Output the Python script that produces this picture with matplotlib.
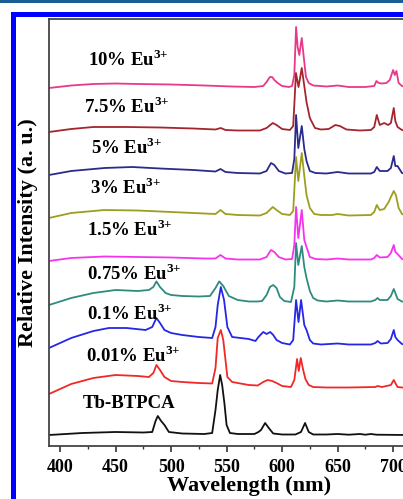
import numpy as np
import matplotlib
matplotlib.use("Agg")
import matplotlib.pyplot as plt
from matplotlib.patches import Rectangle

plt.rcParams["font.family"] = ["Liberation Serif", "DejaVu Serif"]
plt.rcParams["font.weight"] = "bold"
plt.rcParams["mathtext.fontset"] = "custom"
plt.rcParams["mathtext.rm"] = "Liberation Serif"
plt.rcParams["mathtext.bf"] = "Liberation Serif:bold"

########################################
# DATA
########################################
labels = ["10% Eu", "7.5% Eu", "5% Eu", "3% Eu", "1.5% Eu",
          "0.75% Eu", "0.1% Eu", "0.01% Eu", "Tb-BTPCA"]
colors = ["#E8388A", "#A3262E", "#2B2B8C", "#9E9E1E", "#F533EE",
          "#2E8B7F", "#2626E6", "#F02828", "#111111"]
offsets = [359, 315, 272, 230, 186, 144, 101, 58, 11]

wl_10 = [390, 410, 430, 450, 470, 500, 530, 555, 575, 583, 586, 589, 591, 593, 596, 600, 606, 609, 611,
         612.6, 614, 615.5, 617.7, 619.5, 621.5, 624, 628, 640, 650, 660, 675, 683, 685, 687, 690, 694,
         697, 700, 701.5, 703, 705, 708, 712]
int_10 = [-1, 1.5, 3, 3.5, 3, 2.5, 1.5, 0.5, 0, 1, 5, 10, 10, 7, 4, 1, 0, 1, 12,
          60, 40, 32, 49, 30, 10, 4, 1.5, 0.5, 1.5, 0, 0, 1, 6, 4, 3.5, 4,
          7, 17, 12, 16, 4, 1, 0]

wl_75 = [390, 410, 430, 460, 490, 520, 540, 544.7, 549, 560, 580, 586, 591.6, 595, 600, 607, 610,
         612.5, 614.8, 617.7, 620, 622, 625, 629.6, 635, 642, 648, 652, 658, 670, 680, 683, 685.3,
         688, 692, 695.5, 698, 700.6, 702, 704, 708, 712]
int_75 = [-1, 2, 4, 4, 3.5, 2.5, 1.5, 3, 1, 0.5, 0.5, 3, 8, 6, 2, 1, 5,
          58, 44, 63, 45, 29, 13, 3, 1.5, 2, 6, 5, 1.5, 0.5, 1, 4, 16,
          6, 8, 6, 8, 23, 10, 4, 1, 0]

wl_5 = [390, 410, 440, 465, 490, 520, 540, 544.5, 549, 560, 580, 586, 590, 593, 597, 603, 609, 611,
        612.6, 614.6, 617.7, 620, 622, 625, 630, 640, 650, 660, 680, 683, 685.3, 688, 695, 698,
        700.6, 702, 704, 708, 712]
int_5 = [-1, 3, 6, 7, 5.5, 4, 2.5, 5, 2, 1, 0.5, 3, 11, 9, 3, 0.5, 1, 15,
         59, 26, 48, 25, 13, 3, 1, 0.5, 2, 0.5, 0.5, 2, 7, 3, 3, 6,
         18, 8, 8, 1, 0]

wl_3 = [390, 410, 440, 470, 500, 530, 540, 544.5, 549, 560, 580, 586, 591.6, 595, 600, 607, 610,
        612.6, 614.6, 617.7, 620, 622, 625, 629, 635, 645, 650, 660, 680, 683, 685.3, 688, 692,
        696, 698, 700.6, 702.5, 705, 708, 712]
int_3 = [-2, 3, 6, 5.5, 4, 2.5, 2, 6, 2, 1, 0.5, 3, 9, 6, 2, 1, 5,
         59, 35, 63, 40, 21, 8, 2, 1, 1, 2, 0.5, 1, 4, 11, 6, 7,
         14, 19, 25, 21, 8, 2, 0]

wl_15 = [390, 410, 440, 470, 500, 530, 540, 544.5, 549, 560, 580, 586, 590, 593, 597, 603, 609, 611,
         612.6, 614.6, 617.7, 620, 622, 625, 630, 640, 650, 660, 680, 683, 685.3, 688, 695, 698,
         700.6, 702, 704, 708, 712]
int_15 = [-1, 2, 3.5, 3, 2.5, 1.5, 1.5, 5, 1.5, 0.5, 0.5, 3, 10, 8, 3, 0.5, 1, 15,
          53, 22, 50, 20, 13, 3, 1, 0.5, 1.5, 0.5, 0.5, 2, 5, 2.5, 3, 7,
          15, 8, 6, 1, 0]

wl_075 = [390, 410, 430, 450, 470, 480, 484, 486.8, 490, 495, 500, 510, 525, 535, 540, 543.3, 547,
          552, 560, 570, 578, 582, 586, 589, 592, 595, 598, 602, 608, 611, 612.6, 614.6, 617.7, 620,
          622, 625, 628, 632, 640, 650, 660, 680, 684, 686, 688, 695, 698, 700.6, 702, 704, 708, 712]
int_075 = [-3, 4, 9, 12, 11, 12, 15, 20.6, 15, 9, 7, 6, 5.5, 6, 14, 20.6, 16,
           6, 2, 0.5, 0.5, 1, 7, 15, 17, 14, 5, 1, 0, 15, 59, 37, 56, 35,
           24, 11, 4, 1.5, 0.5, 1.5, 0.5, 0.5, 2, 4, 2, 2, 6, 13, 9, 3, 0.5, 0]

wl_01 = [390, 410, 430, 444, 460, 477, 483, 486.8, 490, 494, 500, 510, 525, 537, 540, 542, 544.8,
         547.7, 550.7, 555, 570, 576, 578.7, 583, 586, 589.3, 592, 595, 600, 607, 610, 612.6, 614.8,
         617.1, 620, 622, 625, 628, 635, 650, 660, 680, 684, 686, 689, 695, 698, 700.6, 702, 704,
         708, 712]
int_01 = [-3, 7, 14, 17, 17, 15, 18, 27, 22, 15, 12, 10, 8, 7, 18, 40, 58,
          45, 18, 8, 6, 4, 8, 13, 11, 13, 10, 5, 2, 0.5, 5, 45, 23,
          45, 20, 15, 5, 1.5, 0.5, 1.5, 0.5, 0.5, 2, 4, 1.5, 2, 6, 15, 8, 5,
          1, 0]

wl_001 = [390, 410, 430, 450, 470, 480, 484, 486.8, 490, 494, 500, 510, 525, 537, 540, 542, 544.8,
          547, 550.7, 555, 570, 578, 583, 587, 591, 595, 600, 608, 611, 613.5, 615, 616.8, 619, 621,
          624, 628, 640, 660, 684, 686, 690, 698, 700.6, 702, 704, 708, 712]
int_001 = [-6, 4, 10, 13, 12, 11, 15, 23, 18, 11, 7, 6, 5, 4.5, 20, 50, 58,
           48, 11, 6, 3, 2.5, 6, 8, 7, 5, 2, 1, 8, 29, 17, 30, 18, 9,
           3, 1, 0.5, 0.5, 1, 2, 1, 3, 8, 5, 1, 0.5, 0]

wl_tb = [390, 420, 450, 475, 483, 486, 488, 491, 494, 498, 510, 530, 537, 540, 542, 544.2, 546,
         548, 550, 553, 560, 575, 578.7, 581, 584.7, 588, 592, 600, 612, 617, 620.7, 624, 628, 640,
         650, 660, 670, 675, 680, 685, 712]
int_tb = [0, 2, 3, 2.5, 3, 14, 19, 14, 10, 3, 1.5, 1, 2, 25, 45, 60, 50,
          32, 10, 2, 1, 1, 3, 5, 12, 7, 1.5, 0.5, 0.5, 3, 12, 3, 0.5, 0.5,
          1, 0.3, 1, 0.3, 1, 0.3, 0]

wavelengths = [wl_10, wl_75, wl_5, wl_3, wl_15, wl_075, wl_01, wl_001, wl_tb]
intensities = [int_10, int_75, int_5, int_3, int_15, int_075, int_01, int_001, int_tb]

# label anchor (wavelength, height) for each curve
label_x = [425, 421.5, 428, 427, 424.5, 424.5, 424.5, 423.5, 420]
label_y = [386, 339, 298, 258, 216, 172, 132, 90, 42]

xticks = [400, 450, 500, 550, 600, 650, 700]

########################################
# FIGURE
########################################
W, H = 403, 499
fig = plt.figure(figsize=(W / 100, H / 100), dpi=100)

# frame decoration around the figure
fig.add_artist(Rectangle((0, 1 - 3 / H), 1, 3 / H, transform=fig.transFigure,
                         facecolor="#1b5e96", edgecolor="none"))
fig.add_artist(Rectangle((12.5 / W, -0.2), 1.5, 1.2 - 13.5 / H, transform=fig.transFigure,
                         facecolor="none", edgecolor="#0000ff", linewidth=3.6))

x0, x1 = 390, 750
ax_w = (x1 - x0) * 1.11 / W
ax = fig.add_axes([49 / W, 53 / H, ax_w, 427 / H])

for wl, inten, off, col in zip(wavelengths, intensities, offsets, colors):
    ax.plot(wl, np.array(inten) + off, color=col, linewidth=1.3, solid_joinstyle="round")

for lab, lx, ly in zip(labels, label_x, label_y):
    txt = lab if lab.startswith("Tb") else lab + r"$^{\mathbf{3{+}}}$"
    ax.text(lx, ly, txt, fontsize=13.5, fontweight="bold", ha="left", va="center")

ax.set_xlim(x0, x1)
ax.set_ylim(0, 427)
ax.set_xticks(xticks)
ax.set_xticks(np.arange(425, 750, 50), minor=True)
ax.set_yticks([])
ax.tick_params(axis="x", which="major", direction="out", length=4, width=1.2,
               labelsize=13, pad=5, colors="#333333", labelcolor="black")
ax.tick_params(axis="x", which="minor", direction="out", length=2.5, width=1.0, colors="#333333")
for lbl in ax.get_xticklabels():
    lbl.set_fontweight("bold")
for sp in ax.spines.values():
    sp.set_color("#444444")
    sp.set_linewidth(1.3)

ax.set_xlabel("Wavelength (nm)", fontsize=16, fontweight="bold", labelpad=0)
ax.set_ylabel("Relative Intensity (a. u.)", fontsize=16, fontweight="bold", labelpad=8)

fig.savefig("out.png", dpi=100)
